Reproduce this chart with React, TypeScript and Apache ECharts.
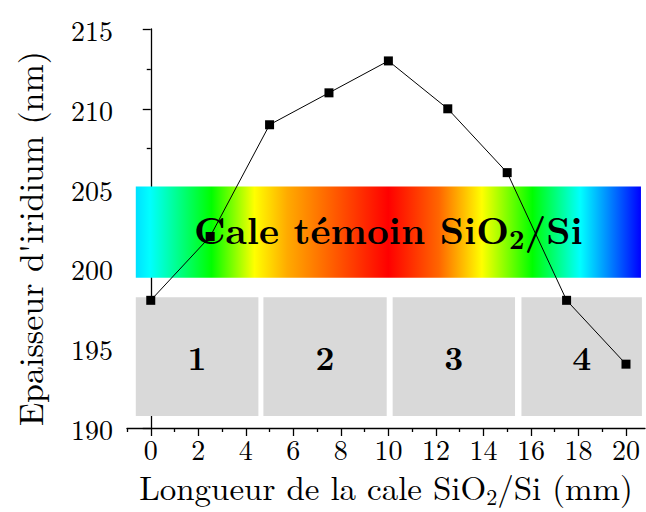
import React, { useEffect, useRef } from "react";
import * as echarts from "echarts";

const xValues = [0, 2.5, 5, 7.5, 10, 12.5, 15, 17.5, 20];
const thickness = [198, 202, 209, 211, 213, 210, 206, 198, 194];
const xTickValues = [0, 2, 4, 6, 8, 10, 12, 14, 16, 18, 20];
const xMinorTickValues = [-1, 1, 3, 5, 7, 9, 11, 13, 15, 17, 19];
const zoneLabels = ["1", "2", "3", "4"];
const zoneStarts = [-0.63, 4.74, 10.18, 15.6];
const zoneEnds = [4.53, 9.93, 15.33, 20.67];
const zoneYRange = [190.75, 198.2];
const bandXRange = [-0.63, 20.63];
const bandYRange = [199.42, 205.13];
const bandStopOffsets = [0, 0.028, 0.15, 0.235, 0.3, 0.42, 0.5, 0.6, 0.685, 0.785, 0.88, 1];
const bandStopColors = ["#00e0ff", "#00ffff", "#00ff00", "#ffff00", "#ffaa00", "#ff4400", "#ff0000", "#ff6600", "#ffff00", "#00ff00", "#00ffff", "#0000ff"];

const serif = "Latin Modern Roman";

export default function App() {
  const ref = useRef<HTMLDivElement>(null);
  useEffect(() => {
    if (!ref.current) return;
    const chart = echarts.init(ref.current, null, { renderer: "svg" });
    const gradient = {
      type: "linear",
      x: 0,
      y: 0,
      x2: 1,
      y2: 0,
      colorStops: bandStopOffsets.map((o, i) => ({ offset: o, color: bandStopColors[i] })),
    };
    const zoneAreas = zoneLabels.map((lab, i) => [
      { name: lab, coord: [zoneStarts[i], zoneYRange[1]] },
      { coord: [zoneEnds[i], zoneYRange[0]] },
    ]);
    const axisLineStyle = { color: "#000", width: 1.3 };
    chart.setOption({
      animation: false,
      backgroundColor: "#fff",
      textStyle: { fontFamily: serif },
      grid: { left: 127, right: 1, top: 29, bottom: 84, containLabel: false, outerBoundsMode: "none" },
      xAxis: [
        {
          type: "value",
          min: -1,
          max: 20.8,
          position: "bottom",
          axisLine: { show: true, lineStyle: axisLineStyle },
          axisTick: { show: true, length: 8, customValues: xTickValues, lineStyle: axisLineStyle },
          axisLabel: {
            show: true,
            customValues: xTickValues,
            margin: 8,
            color: "#000",
            fontSize: 28,
            lineHeight: 24,
            fontFamily: serif,
          },
          splitLine: { show: false },
          name: "Longueur de la cale SiO{s|2}/Si (mm)",
          nameLocation: "middle",
          nameGap: 34,
          nameTextStyle: {
            color: "#000",
            fontSize: 33,
            fontFamily: serif,
            lineHeight: 40,
            rich: {
              s: { fontSize: 22, fontFamily: serif, color: "#000", lineHeight: 12, verticalAlign: "bottom" },
            },
          },
        },
        {
          type: "value",
          min: -1,
          max: 20.8,
          position: "bottom",
          axisLine: { show: false },
          axisTick: { show: true, length: 4, customValues: xMinorTickValues, lineStyle: axisLineStyle },
          axisLabel: { show: false },
          splitLine: { show: false },
        },
      ],
      yAxis: {
        type: "value",
        min: 190,
        max: 215,
        interval: 5,
        axisLine: { show: true, lineStyle: axisLineStyle },
        axisTick: { show: true, length: 8, lineStyle: axisLineStyle },
        minorTick: { show: true, splitNumber: 2, length: 4, lineStyle: axisLineStyle },
        axisLabel: { margin: 14, color: "#000", fontSize: 28, lineHeight: 30, padding: [0, 0, 6, 0], fontFamily: serif },
        splitLine: { show: false },
        minorSplitLine: { show: false },
        name: "Epaisseur d'iridium (nm)",
        nameLocation: "middle",
        nameGap: 78,
        nameTextStyle: {
          color: "#000",
          fontSize: 34,
          fontFamily: serif,
          lineHeight: 40,
          padding: [0, 20, 0, 0],
        },
      },
      series: [
        {
          type: "scatter",
          xAxisIndex: 0,
          yAxisIndex: 0,
          data: [],
          silent: true,
          markArea: {
            silent: true,
            data: [
              [
                { name: "band", coord: [bandXRange[0], bandYRange[1]], itemStyle: { color: gradient } },
                { coord: [bandXRange[1], bandYRange[0]] },
              ],
            ],
            itemStyle: { color: gradient, opacity: 1 },
            label: {
              show: true,
              position: "inside",
              padding: [0, 0, 8, 0],
              formatter: "{b|Cale témoin SiO}{s|2}{b|/Si}",
              rich: {
                b: { fontSize: 38, fontWeight: "bold", fontFamily: serif, color: "#000", lineHeight: 46 },
                s: { fontSize: 27, fontWeight: "bold", fontFamily: serif, color: "#000", lineHeight: 18, verticalAlign: "bottom" },
              },
            },
          },
        },
        {
          type: "scatter",
          xAxisIndex: 0,
          yAxisIndex: 0,
          data: [],
          silent: true,
          markArea: {
            silent: true,
            data: zoneAreas,
            itemStyle: { color: "#d9d9d9", opacity: 1 },
            label: {
              show: true,
              position: "inside",
              padding: [0, 0, 4, 0],
              color: "#000",
              fontSize: 33,
              fontWeight: "bold",
              fontFamily: serif,
            },
          },
        },
        {
          type: "line",
          xAxisIndex: 0,
          yAxisIndex: 0,
          z: 5,
          data: xValues.map((x, i) => [x, thickness[i]]),
          symbol: "rect",
          symbolSize: 9,
          lineStyle: { color: "#000", width: 1 },
          itemStyle: { color: "#000" },
          silent: true,
        },
      ],
    });
    return () => chart.dispose();
  }, []);
  return (
    <div
      ref={ref}
      style={{ position: "fixed", left: 0, top: 0, width: 646, height: 512, background: "#fff" }}
    />
  );
}
